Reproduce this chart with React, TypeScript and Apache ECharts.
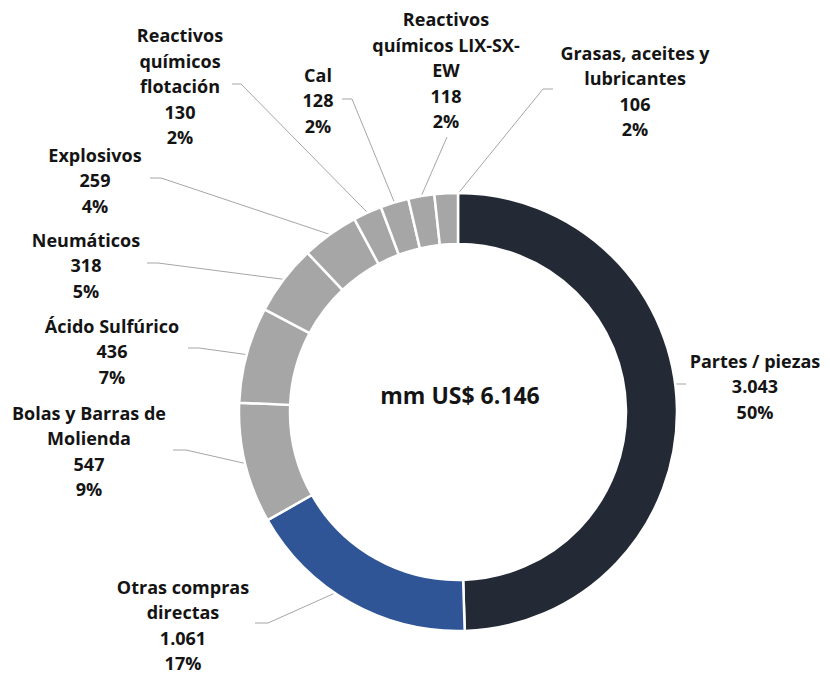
import React, { useEffect, useRef } from "react";
import * as echarts from "echarts";

// ---- data ----
const categories = [
  "Partes / piezas",
  "Otras compras directas",
  "Bolas y Barras de Molienda",
  "Ácido Sulfúrico",
  "Neumáticos",
  "Explosivos",
  "Reactivos químicos flotación",
  "Cal",
  "Reactivos químicos LIX-SX-EW",
  "Grasas, aceites y lubricantes",
];
const labelNames = [
  "Partes / piezas",
  "Otras compras\ndirectas",
  "Bolas y Barras de\nMolienda",
  "Ácido Sulfúrico",
  "Neumáticos",
  "Explosivos",
  "Reactivos\nquímicos\nflotación",
  "Cal",
  "Reactivos\nquímicos LIX-SX-\nEW",
  "Grasas, aceites y\nlubricantes",
];
const values = [3043, 1061, 547, 436, 318, 259, 130, 128, 118, 106];
const totalLabel = "mm US$ 6.146";

// ---- styles / layout ----
const colors = [
  "#232a36",
  "#2f5597",
  "#a6a6a6",
  "#a6a6a6",
  "#a6a6a6",
  "#a6a6a6",
  "#a6a6a6",
  "#a6a6a6",
  "#a6a6a6",
  "#a6a6a6",
];
const CX = 458;
const CY = 412;
const R_IN = 168;
const R_OUT = 219;
// label block centre, line anchor at label, elbow, and radius where the line meets the ring
const labelPos: { x: number; y: number; a: number[]; e: number[]; r: number }[] = [
  { x: 755, y: 386, a: [686, 384], e: [676, 384], r: 193 },
  { x: 183, y: 625, a: [255, 623], e: [268, 623], r: 193 },
  { x: 89, y: 451, a: [173, 450], e: [186, 450], r: 219 },
  { x: 112, y: 351, a: [188, 348], e: [199, 348], r: 219 },
  { x: 86, y: 265, a: [147, 263], e: [158, 263], r: 219 },
  { x: 95, y: 180, a: [150, 178], e: [161, 178], r: 219 },
  { x: 180, y: 86, a: [232, 84], e: [241, 84], r: 219 },
  { x: 318, y: 100, a: [342, 99], e: [352, 99], r: 219 },
  { x: 446, y: 70, a: [447, 137], e: [447, 137], r: 219 },
  { x: 635, y: 91, a: [553, 89], e: [543, 89], r: 205 },
];

const fmt = (v: number) => v.toString().replace(/\B(?=(\d{3})+(?!\d))/g, ".");

export default function App() {
  const ref = useRef<HTMLDivElement>(null);
  useEffect(() => {
    if (!ref.current) return;
    const chart = echarts.init(ref.current, undefined, { renderer: "svg" });
    const total = values.reduce((s, v) => s + v, 0);
    const cum: number[] = [];
    values.reduce((s, v) => {
      cum.push(s);
      return s + v;
    }, 0);
    const font = "'Open Sans', 'Noto Sans', sans-serif";
    chart.setOption({
      animation: false,
      backgroundColor: "#ffffff",
      graphic: [
        {
          type: "text",
          x: 460,
          y: 395,
          style: {
            text: totalLabel,
            fontFamily: font,
            fontWeight: "bold",
            fontSize: 23,
            fill: "#141414",
            textAlign: "center",
            textVerticalAlign: "middle",
          },
        },
      ],
      series: [
        {
          type: "pie",
          center: [CX, CY],
          radius: [R_IN, R_OUT],
          startAngle: 90,
          clockwise: true,
          avoidLabelOverlap: false,
          itemStyle: { borderColor: "#ffffff", borderWidth: 2.5 },
          label: {
            show: true,
            position: "outside",
            fontFamily: font,
            fontWeight: "bold",
            fontSize: 18,
            lineHeight: 25.5,
            color: "#141414",
            align: "center",
            formatter: (p: any) =>
              `${labelNames[p.dataIndex]}\n${fmt(p.value)}\n${Math.round((p.value / total) * 100)}%`,
          },
          labelLine: {
            show: true,
            showAbove: true,
            lineStyle: { color: "#a6a6a6", width: 1 },
          },
          emphasis: { disabled: true },
          labelLayout: (params: any) => {
            const i = params.dataIndex;
            const lp = labelPos[i];
            const frac = (cum[i] + values[i] / 2) / total;
            const th = frac * Math.PI * 2;
            const end = [CX + lp.r * Math.sin(th), CY - lp.r * Math.cos(th)];
            return {
              x: lp.x,
              y: lp.y,
              align: "center",
              verticalAlign: "middle",
              labelLinePoints: [end, lp.e, lp.a],
            };
          },
          data: categories.map((name, i) => ({
            name,
            value: values[i],
            itemStyle: { color: colors[i] },
          })),
        },
      ],
    });
    return () => chart.dispose();
  }, []);
  return (
    <div
      ref={ref}
      style={{ position: "fixed", left: 0, top: 0, width: 830, height: 677 }}
    />
  );
}
